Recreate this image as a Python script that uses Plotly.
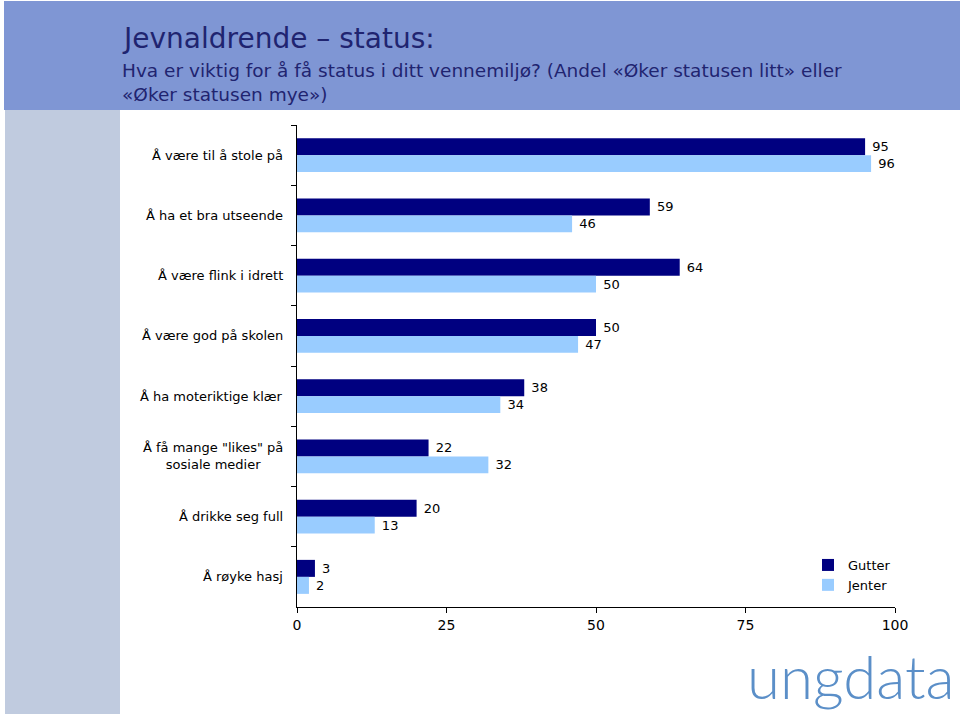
import plotly.graph_objects as go

categories = [
    "Å være til å stole på",
    "Å ha et bra utseende",
    "Å være flink i idrett",
    "Å være god på skolen",
    "Å ha moteriktige klær",
    "Å få mange \"likes\" på<br>sosiale medier",
    "Å drikke seg full",
    "Å røyke hasj",
]
gutter = [95, 59, 64, 50, 38, 22, 20, 3]
jenter = [96, 46, 50, 47, 34, 32, 13, 2]
x_ticks = [0, 25, 50, 75, 100]

title = "Jevnaldrende – status:"
subtitle = "Hva er viktig for å få status i ditt vennemiljø? (Andel «Øker statusen litt» eller<br>«Øker statusen mye»)"

FONT = "DejaVu Sans, Verdana, sans-serif"

# pixel helpers (plot area: x 297..895, y 125..607)
L, R, T, B = 297, 895, 125, 607
def px(x):
    return (x - L) / (R - L)
def py(y):
    return (B - y) / (B - T)

fig = go.Figure()
fig.add_trace(go.Bar(
    y=categories, x=gutter, orientation="h", name="Gutter",
    marker=dict(color="#000080", line=dict(width=0)),
    text=[str(v) for v in gutter], texttemplate="\u00a0%{text}", textposition="outside",
    textfont=dict(size=13, color="black", family=FONT),
    cliponaxis=False, constraintext="none",
))
fig.add_trace(go.Bar(
    y=categories, x=jenter, orientation="h", name="Jenter",
    marker=dict(color="#99CCFF", line=dict(width=0)),
    text=[str(v) for v in jenter], texttemplate="\u00a0%{text}", textposition="outside",
    textfont=dict(size=13, color="black", family=FONT),
    cliponaxis=False, constraintext="none",
))

annotations = []
for c in categories:
    annotations.append(dict(
        x=0, xref="paper", y=c, yref="y", text=c, showarrow=False,
        xanchor="right", align="center", xshift=-12,
        font=dict(size=13, color="black", family=FONT),
    ))
annotations.append(dict(
    x=px(120), y=py(39), xref="paper", yref="paper", text=title,
    showarrow=False, xanchor="left", yanchor="middle",
    font=dict(size=28, color="#1F2470", family=FONT),
))
annotations.append(dict(
    x=px(120), y=py(58), xref="paper", yref="paper", text=subtitle,
    showarrow=False, xanchor="left", yanchor="top", align="left",
    font=dict(size=18.5, color="#1F2470", family=FONT),
))
annotations.append(dict(
    x=px(957), y=py(676), xref="paper", yref="paper", text="ungdata",
    showarrow=False, xanchor="right", yanchor="middle",
    font=dict(size=60, color="#5B8FC8", family="Lato", weight=300),
))

shapes = [
    dict(type="rect", xref="paper", yref="paper", layer="below",
         x0=px(4), x1=px(960), y0=py(110), y1=py(1),
         fillcolor="#7F96D4", line=dict(width=0)),
    dict(type="rect", xref="paper", yref="paper", layer="below",
         x0=px(5), x1=px(120), y0=py(714), y1=py(110),
         fillcolor="#C0CBDF", line=dict(width=0)),
]

fig.update_layout(
    width=960, height=716,
    margin=dict(l=L, r=960 - R, t=T, b=716 - B),
    paper_bgcolor="white", plot_bgcolor="white",
    barmode="group", bargap=0.436, bargroupgap=0,
    font=dict(family=FONT, size=14, color="black"),
    showlegend=True,
    legend=dict(x=px(808), y=py(550), xanchor="left", yanchor="top",
                bgcolor="rgba(0,0,0,0)", font=dict(size=13, family=FONT),
                itemwidth=30, tracegroupgap=8),
    annotations=annotations,
    shapes=shapes,
)
fig.update_xaxes(
    range=[0, 100], tickvals=x_ticks, ticktext=[str(v) for v in x_ticks],
    showgrid=False, zeroline=False, showline=True, linecolor="black", linewidth=1,
    ticks="outside", ticklen=5, tickcolor="black",
    tickfont=dict(size=14, family=FONT), fixedrange=True,
)
fig.update_yaxes(
    autorange=False, range=[7.5, -0.5], categoryorder="array", categoryarray=categories,
    showgrid=False, zeroline=False, showline=True, linecolor="black", linewidth=1,
    ticks="outside", ticklen=5, tickcolor="black", tickson="boundaries",
    showticklabels=False, fixedrange=True,
)

fig.write_html("out.html", config={"displayModeBar": False},
               post_script="document.body.style.margin='0';document.body.style.overflow='hidden';")
